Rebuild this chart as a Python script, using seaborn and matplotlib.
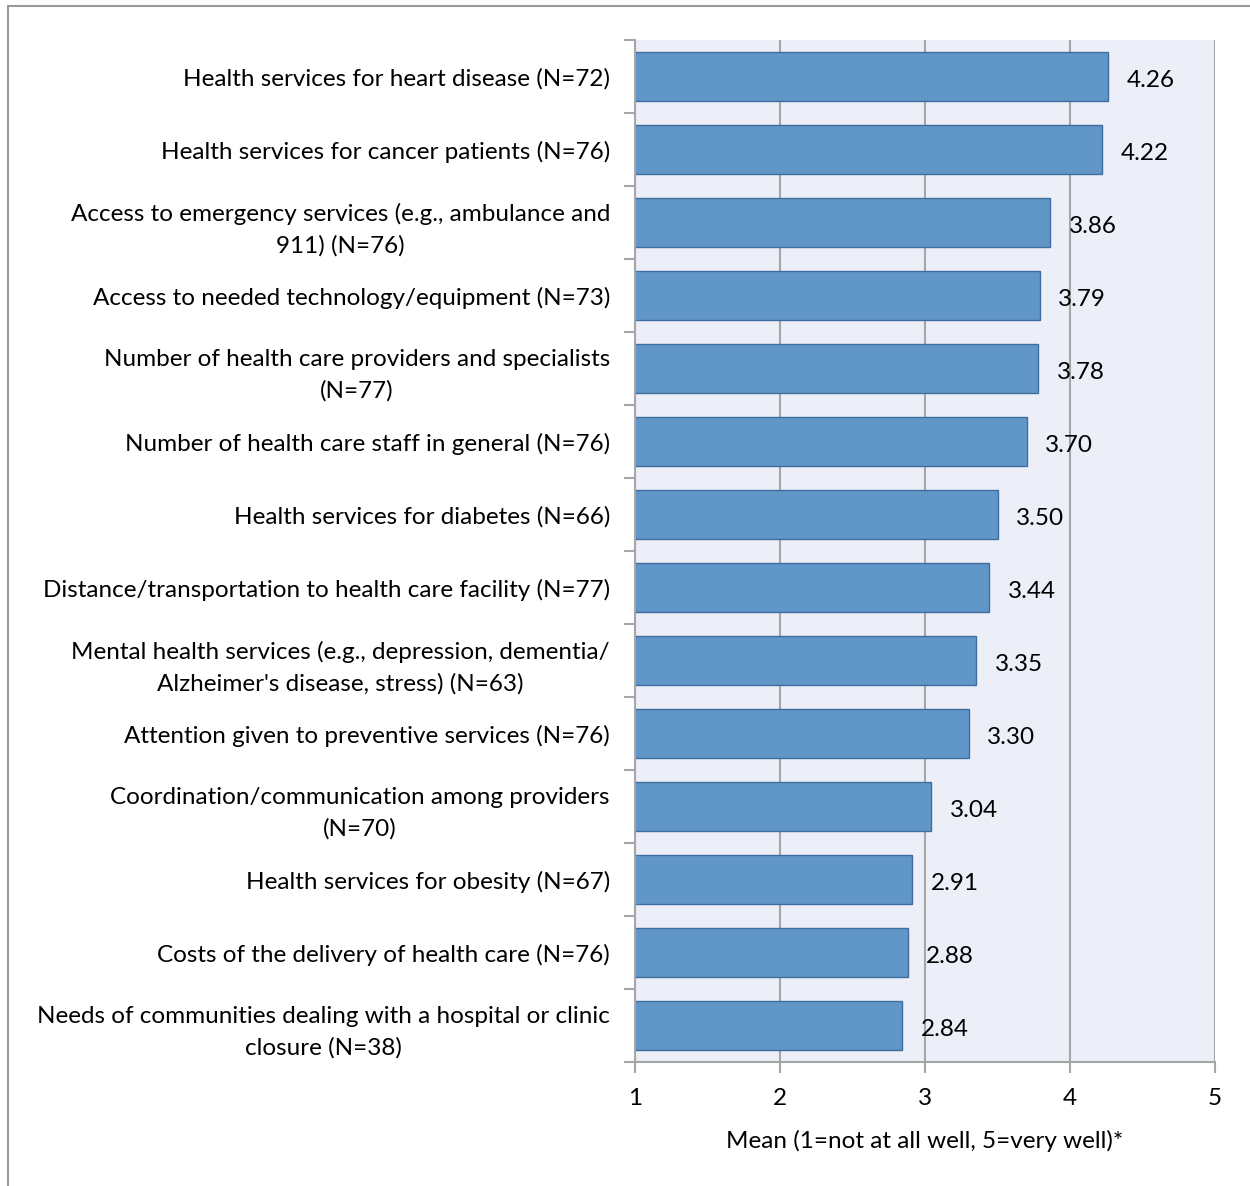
import matplotlib
matplotlib.use("Agg")
import matplotlib.pyplot as plt
import seaborn as sns
import pandas as pd
import numpy as np
from matplotlib.lines import Line2D

categories = [
    "Health services for heart disease (N=72)",
    "Health services for cancer patients (N=76)",
    "Access to emergency services (e.g., ambulance and\n911) (N=76)",
    "Access to needed technology/equipment (N=73)",
    "Number of health care providers and specialists\n(N=77)",
    "Number of health care staff in general (N=76)",
    "Health services for diabetes (N=66)",
    "Distance/transportation to health care facility (N=77)",
    "Mental health services (e.g., depression, dementia/\nAlzheimer's disease, stress) (N=63)",
    "Attention given to preventive services (N=76)",
    "Coordination/communication among providers\n(N=70)",
    "Health services for obesity (N=67)",
    "Costs of the delivery of health care (N=76)",
    "Needs of communities dealing with a hospital or clinic\nclosure (N=38)",
]
means = [4.26, 4.22, 3.86, 3.79, 3.78, 3.70, 3.50, 3.44, 3.35, 3.30, 3.04, 2.91, 2.88, 2.84]
x_ticks = [1, 2, 3, 4, 5]
x_label = "Mean (1=not at all well, 5=very well)*"

df = pd.DataFrame({"category": categories, "mean": means})

sns.set_theme(style="white")
plt.rcParams["font.family"] = ["Lato", "DejaVu Sans"]

FS = 17.5
W, H = 1250, 1186
fig = plt.figure(figsize=(W / 100, H / 100), dpi=100)
ax = fig.add_axes([635 / W, 1 - 1062 / H, (1215 - 635) / W, (1062 - 40) / H])

sns.barplot(data=df, x="mean", y="category", orient="h", color="#6096C8",
            saturation=1, width=0.67, edgecolor="#3F6E9E", linewidth=1.0, ax=ax)

ax.set_facecolor("#ECEFF7")
ax.set_xlim(1, 5)
ax.set_ylim(len(categories) - 0.5, -0.5)
ax.set_xticks(x_ticks)
ax.set_xticklabels([str(t) for t in x_ticks], fontsize=FS)
ax.xaxis.grid(True, color="#A6A6A6", linewidth=1.5)
ax.set_axisbelow(True)

for s in ["top", "right"]:
    ax.spines[s].set_visible(False)
for s in ["left", "bottom"]:
    ax.spines[s].set_color("#A6A6A6")
    ax.spines[s].set_linewidth(1.5)

ax.tick_params(axis="x", which="major", direction="out", length=8, width=1.5,
               color="#A6A6A6", pad=11, bottom=True, labelcolor="black")
ax.tick_params(axis="y", which="major", length=0, pad=18, labelsize=FS, labelcolor="black")
ax.set_yticks(np.arange(-0.5, len(categories) + 0.5, 1), minor=True)
ax.tick_params(axis="y", which="minor", direction="out", length=8, width=1.5,
               color="#A6A6A6", left=True)
for lbl in ax.get_yticklabels():
    lbl.set_multialignment("center")
    lbl.set_linespacing(1.58)
    lbl.set_verticalalignment("center_baseline")

ax.set_ylabel("")
ax.set_xlabel(x_label, fontsize=FS, labelpad=15, color="black")

for i, v in enumerate(means):
    ax.annotate(f"{v:.2f}", xy=(v, i), xytext=(13.5, -3), textcoords="offset points",
                ha="left", va="center", fontsize=FS, color="black")

# outer frame
fig.add_artist(Line2D([8 / W, 1], [1 - 6 / H, 1 - 6 / H], color="#999999", linewidth=1.5,
                      transform=fig.transFigure))
fig.add_artist(Line2D([8 / W, 8 / W], [0, 1 - 6 / H], color="#999999", linewidth=1.5,
                      transform=fig.transFigure))

fig.savefig("out.png", dpi=100, facecolor="white")
